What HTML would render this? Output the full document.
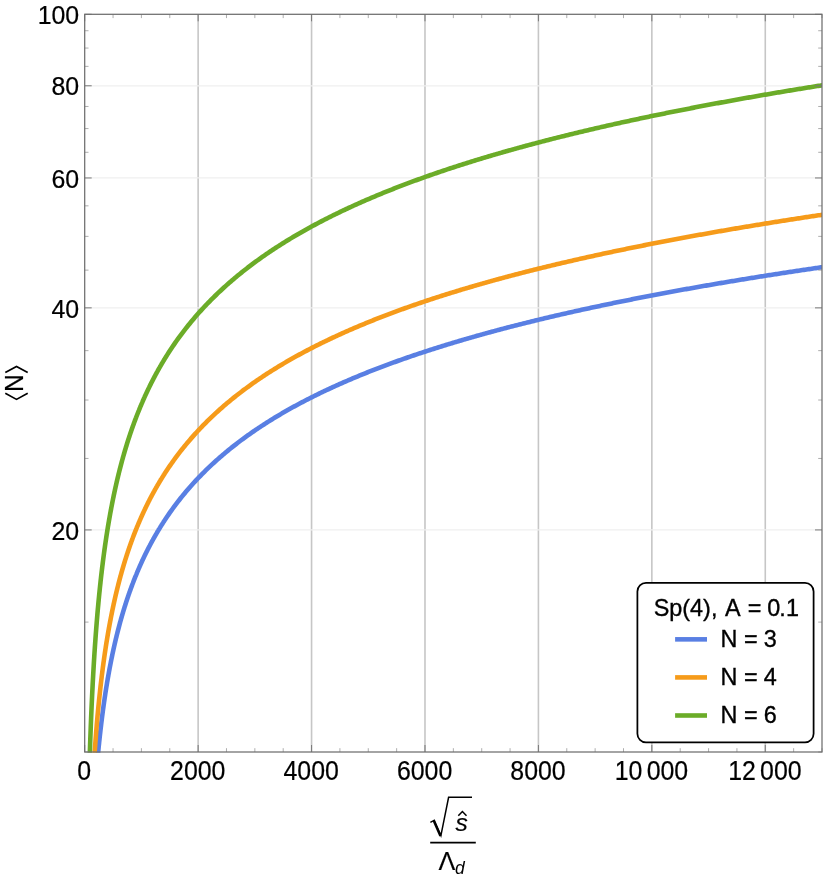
<!DOCTYPE html>
<html><head><meta charset="utf-8"><title>chart</title>
<style>html,body{margin:0;padding:0;background:#fff}svg{display:block}text{font-family:"Liberation Sans",sans-serif;fill:#000}</style></head><body>
<svg width="830" height="879" viewBox="0 0 830 879">
<filter id="bl" x="0" y="0" width="830" height="879" filterUnits="userSpaceOnUse" color-interpolation-filters="sRGB"><feGaussianBlur stdDeviation="0.4"/></filter>
<g filter="url(#bl)">
<rect x="0" y="0" width="830" height="879" fill="#fff"/>
<defs><clipPath id="cp"><rect x="84.7" y="14.3" width="737.30" height="738.55"/></clipPath></defs>
<g stroke="#c6c6c6" stroke-width="1.6"><line x1="198.13" y1="14.3" x2="198.13" y2="752.0"/><line x1="311.56" y1="14.3" x2="311.56" y2="752.0"/><line x1="424.99" y1="14.3" x2="424.99" y2="752.0"/><line x1="538.42" y1="14.3" x2="538.42" y2="752.0"/><line x1="651.85" y1="14.3" x2="651.85" y2="752.0"/><line x1="765.28" y1="14.3" x2="765.28" y2="752.0"/></g>
<g stroke="#efefef" stroke-width="1.25"><line x1="84.7" y1="529.93" x2="822.0" y2="529.93"/><line x1="84.7" y1="307.86" x2="822.0" y2="307.86"/><line x1="84.7" y1="177.96" x2="822.0" y2="177.96"/><line x1="84.7" y1="85.79" x2="822.0" y2="85.79"/></g>
<g clip-path="url(#cp)" fill="none" stroke-width="4.6" stroke-linejoin="round">
<path d="M97.61,758.11 L97.81,755.99 L98.00,753.90 L98.20,751.85 L98.40,749.83 L98.59,747.84 L98.79,745.88 L98.99,743.96 L99.18,742.05 L99.38,740.18 L99.58,738.34 L99.78,736.52 L99.97,734.72 L100.17,732.96 L100.37,731.21 L100.56,729.49 L100.76,727.79 L100.96,726.12 L101.15,724.47 L101.35,722.83 L101.55,721.22 L101.74,719.63 L101.94,718.06 L102.14,716.51 L102.33,714.98 L102.53,713.46 L102.73,711.97 L102.92,710.49 L103.12,709.03 L103.32,707.58 L103.51,706.15 L103.71,704.74 L103.91,703.34 L104.10,701.96 L104.30,700.60 L104.50,699.25 L104.69,697.91 L104.89,696.59 L105.09,695.28 L105.28,693.98 L105.48,692.70 L105.68,691.43 L105.87,690.18 L106.07,688.93 L106.27,687.70 L106.46,686.48 L106.66,685.28 L106.86,684.08 L107.05,682.90 L107.25,681.72 L107.45,680.56 L107.64,679.41 L107.84,678.27 L108.04,677.14 L108.24,676.02 L108.43,674.91 L108.63,673.81 L108.83,672.72 L109.02,671.64 L109.22,670.57 L109.42,669.51 L109.61,668.46 L109.81,667.41 L110.01,666.38 L110.20,665.35 L110.40,664.33 L110.60,663.33 L110.79,662.32 L110.99,661.33 L111.19,660.35 L111.38,659.37 L111.58,658.40 L111.78,657.44 L111.97,656.48 L112.17,655.54 L112.37,654.60 L112.56,653.66 L112.76,652.74 L112.96,651.82 L113.15,650.91 L113.35,650.00 L113.55,649.11 L113.74,648.22 L113.94,647.33 L114.14,646.45 L114.33,645.58 L114.53,644.71 L114.73,643.85 L114.92,643.00 L115.12,642.15 L115.32,641.31 L115.51,640.47 L115.71,639.64 L115.91,638.82 L116.10,638.00 L116.30,637.18 L116.50,636.38 L116.69,635.57 L116.89,634.78 L117.09,633.98 L117.29,633.20 L117.48,632.41 L117.68,631.64 L117.88,630.87 L118.07,630.10 L118.27,629.34 L118.47,628.58 L118.66,627.83 L118.86,627.08 L119.06,626.33 L119.25,625.59 L119.45,624.86 L119.65,624.13 L119.84,623.40 L120.04,622.68 L120.24,621.97 L120.43,621.25 L120.63,620.55 L120.83,619.84 L121.02,619.14 L121.22,618.44 L121.42,617.75 L121.61,617.06 L121.81,616.38 L122.01,615.70 L122.20,615.02 L122.40,614.35 L122.60,613.68 L122.79,613.02 L122.99,612.36 L123.19,611.70 L123.38,611.04 L123.58,610.39 L123.78,609.75 L123.97,609.10 L124.17,608.46 L124.37,607.82 L124.56,607.19 L124.76,606.56 L124.96,605.93 L125.15,605.31 L125.35,604.69 L125.55,604.07 L125.75,603.46 L125.94,602.85 L126.14,602.24 L126.34,601.64 L126.53,601.04 L126.73,600.44 L126.93,599.84 L127.12,599.25 L127.32,598.66 L127.52,598.07 L127.71,597.49 L127.91,596.91 L128.11,596.33 L128.30,595.76 L128.50,595.18 L128.70,594.61 L128.89,594.05 L129.09,593.48 L129.29,592.92 L129.48,592.36 L129.68,591.81 L129.88,591.25 L130.07,590.70 L130.27,590.15 L130.47,589.61 L130.66,589.06 L130.86,588.52 L131.06,587.98 L131.25,587.45 L131.45,586.91 L131.65,586.38 L131.84,585.85 L132.04,585.33 L132.24,584.80 L132.43,584.28 L132.63,583.76 L132.83,583.25 L133.02,582.73 L133.22,582.22 L133.42,581.71 L133.61,581.20 L133.81,580.69 L134.01,580.19 L134.21,579.69 L134.40,579.19 L134.60,578.69 L134.80,578.19 L134.99,577.70 L135.19,577.21 L135.39,576.72 L135.58,576.23 L135.78,575.75 L135.98,575.27 L136.17,574.78 L136.37,574.30 L136.57,573.83 L136.76,573.35 L136.96,572.88 L137.16,572.41 L137.35,571.94 L137.55,571.47 L137.75,571.00 L137.94,570.54 L138.14,570.08 L138.34,569.62 L138.53,569.16 L138.73,568.70 L138.93,568.25 L139.12,567.79 L139.32,567.34 L139.52,566.89 L139.71,566.44 L139.91,566.00 L140.11,565.55 L140.30,565.11 L140.50,564.67 L140.70,564.23 L140.89,563.79 L141.09,563.35 L141.29,562.92 L141.48,562.49 L141.68,562.06 L141.88,561.63 L142.07,561.20 L142.27,560.77 L142.47,560.35 L142.66,559.92 L142.86,559.50 L143.06,559.08 L143.26,558.66 L143.45,558.24 L143.65,557.83 L143.85,557.41 L144.04,557.00 L144.24,556.59 L144.44,556.18 L144.63,555.77 L144.83,555.36 L145.03,554.95 L145.22,554.55 L145.42,554.15 L145.62,553.75 L145.81,553.35 L146.01,552.95 L146.21,552.55 L146.40,552.15 L146.60,551.76 L146.80,551.36 L146.99,550.97 L147.19,550.58 L147.39,550.19 L147.58,549.80 L147.78,549.42 L147.98,549.03 L148.17,548.65 L148.37,548.26 L148.57,547.88 L148.76,547.50 L148.96,547.12 L149.16,546.74 L149.35,546.37 L149.55,545.99 L149.75,545.62 L149.94,545.24 L150.14,544.87 L150.34,544.50 L150.53,544.13 L150.73,543.76 L150.93,543.40 L151.12,543.03 L151.32,542.66 L151.52,542.30 L151.72,541.94 L151.91,541.58 L152.11,541.22 L152.31,540.86 L152.50,540.50 L152.70,540.14 L152.90,539.79 L153.09,539.43 L153.29,539.08 L153.49,538.72 L153.68,538.37 L153.88,538.02 L154.08,537.67 L154.27,537.32 L154.47,536.98 L154.67,536.63 L154.86,536.29 L155.06,535.94 L155.26,535.60 L155.45,535.26 L155.65,534.91 L155.85,534.57 L156.04,534.24 L156.24,533.90 L156.44,533.56 L156.63,533.22 L156.83,532.89 L157.03,532.55 L157.22,532.22 L157.42,531.89 L157.62,531.56 L157.81,531.23 L158.01,530.90 L158.21,530.57 L158.40,530.24 L158.60,529.91 L158.80,529.59 L158.99,529.26 L159.19,528.94 L159.39,528.62 L159.58,528.30 L159.78,527.97 L159.98,527.65 L160.17,527.33 L160.37,527.02 L160.57,526.70 L160.77,526.38 L160.96,526.07 L161.16,525.75 L161.36,525.44 L161.55,525.12 L161.75,524.81 L161.95,524.50 L162.14,524.19 L162.34,523.88 L162.54,523.57 L162.73,523.26 L162.93,522.96 L163.13,522.65 L163.32,522.34 L163.52,522.04 L163.72,521.73 L163.91,521.43 L164.11,521.13 L164.31,520.83 L164.50,520.53 L164.70,520.23 L166.02,518.23 L167.35,516.26 L168.67,514.33 L169.99,512.44 L171.32,510.57 L172.64,508.73 L173.96,506.92 L175.29,505.14 L176.61,503.39 L177.93,501.67 L179.26,499.97 L180.58,498.29 L181.90,496.64 L183.23,495.02 L184.55,493.42 L185.87,491.84 L187.20,490.28 L188.52,488.74 L189.84,487.22 L191.16,485.73 L192.49,484.25 L193.81,482.79 L195.13,481.35 L196.46,479.93 L197.78,478.53 L199.10,477.15 L200.43,475.78 L201.75,474.43 L203.07,473.09 L204.40,471.77 L205.72,470.47 L207.04,469.18 L208.37,467.90 L209.69,466.64 L211.01,465.40 L212.34,464.16 L213.66,462.94 L214.98,461.74 L216.31,460.55 L217.63,459.37 L218.95,458.20 L220.28,457.04 L221.60,455.90 L222.92,454.77 L224.25,453.65 L225.57,452.54 L226.89,451.44 L228.22,450.35 L229.54,449.28 L230.86,448.21 L232.19,447.16 L233.51,446.11 L234.83,445.07 L236.16,444.05 L237.48,443.03 L238.80,442.02 L240.13,441.02 L241.45,440.03 L242.77,439.05 L244.09,438.08 L245.42,437.12 L246.74,436.16 L248.06,435.21 L249.39,434.28 L250.71,433.34 L252.03,432.42 L253.36,431.51 L254.68,430.60 L256.00,429.70 L257.33,428.81 L258.65,427.92 L259.97,427.04 L261.30,426.17 L262.62,425.31 L263.94,424.45 L265.27,423.60 L266.59,422.75 L267.91,421.91 L269.24,421.08 L270.56,420.26 L271.88,419.44 L273.21,418.62 L274.53,417.82 L275.85,417.02 L277.18,416.22 L278.50,415.43 L279.82,414.65 L281.15,413.87 L282.47,413.10 L283.79,412.33 L285.12,411.57 L286.44,410.81 L287.76,410.06 L289.09,409.31 L290.41,408.57 L291.73,407.84 L293.05,407.11 L294.38,406.38 L295.70,405.66 L297.02,404.94 L298.35,404.23 L299.67,403.52 L300.99,402.82 L302.32,402.12 L303.64,401.43 L304.96,400.74 L306.29,400.06 L307.61,399.37 L308.93,398.70 L310.26,398.03 L311.58,397.36 L312.90,396.70 L314.23,396.04 L315.55,395.38 L316.87,394.73 L318.20,394.08 L319.52,393.44 L320.84,392.80 L322.17,392.16 L323.49,391.53 L324.81,390.90 L326.14,390.28 L327.46,389.65 L328.78,389.04 L330.11,388.42 L331.43,387.81 L332.75,387.20 L334.08,386.60 L335.40,386.00 L336.72,385.40 L338.05,384.81 L339.37,384.22 L340.69,383.63 L342.02,383.05 L343.34,382.46 L344.66,381.89 L345.98,381.31 L347.31,380.74 L348.63,380.17 L349.95,379.61 L351.28,379.04 L352.60,378.48 L353.92,377.93 L355.25,377.37 L356.57,376.82 L357.89,376.27 L359.22,375.73 L360.54,375.18 L361.86,374.64 L363.19,374.11 L364.51,373.57 L365.83,373.04 L367.16,372.51 L368.48,371.98 L369.80,371.46 L371.13,370.94 L372.45,370.42 L373.77,369.90 L375.10,369.39 L376.42,368.88 L377.74,368.37 L379.07,367.86 L380.39,367.36 L381.71,366.86 L383.04,366.36 L384.36,365.86 L385.68,365.37 L387.01,364.87 L388.33,364.38 L389.65,363.90 L390.98,363.41 L392.30,362.93 L393.62,362.44 L394.94,361.97 L396.27,361.49 L397.59,361.01 L398.91,360.54 L400.24,360.07 L401.56,359.60 L402.88,359.14 L404.21,358.67 L405.53,358.21 L406.85,357.75 L408.18,357.29 L409.50,356.83 L410.82,356.38 L412.15,355.93 L413.47,355.48 L414.79,355.03 L416.12,354.58 L417.44,354.13 L418.76,353.69 L420.09,353.25 L421.41,352.81 L422.73,352.37 L424.06,351.94 L425.38,351.50 L426.70,351.07 L428.03,350.64 L429.35,350.21 L430.67,349.79 L432.00,349.36 L433.32,348.94 L434.64,348.52 L435.97,348.09 L437.29,347.68 L438.61,347.26 L439.94,346.84 L441.26,346.43 L442.58,346.02 L443.91,345.61 L445.23,345.20 L446.55,344.79 L447.87,344.39 L449.20,343.98 L450.52,343.58 L451.84,343.18 L453.17,342.78 L454.49,342.38 L455.81,341.99 L457.14,341.59 L458.46,341.20 L459.78,340.81 L461.11,340.42 L462.43,340.03 L463.75,339.64 L465.08,339.25 L466.40,338.87 L467.72,338.48 L469.05,338.10 L470.37,337.72 L471.69,337.34 L473.02,336.96 L474.34,336.59 L475.66,336.21 L476.99,335.84 L478.31,335.47 L479.63,335.10 L480.96,334.73 L482.28,334.36 L483.60,333.99 L484.93,333.62 L486.25,333.26 L487.57,332.90 L488.90,332.53 L490.22,332.17 L491.54,331.81 L492.87,331.45 L494.19,331.10 L495.51,330.74 L496.83,330.39 L498.16,330.03 L499.48,329.68 L500.80,329.33 L502.13,328.98 L503.45,328.63 L504.77,328.28 L506.10,327.94 L507.42,327.59 L508.74,327.25 L510.07,326.90 L511.39,326.56 L512.71,326.22 L514.04,325.88 L515.36,325.54 L516.68,325.20 L518.01,324.87 L519.33,324.53 L520.65,324.20 L521.98,323.86 L523.30,323.53 L524.62,323.20 L525.95,322.87 L527.27,322.54 L528.59,322.21 L529.92,321.89 L531.24,321.56 L532.56,321.23 L533.89,320.91 L535.21,320.59 L536.53,320.27 L537.86,319.94 L539.18,319.62 L540.50,319.31 L541.83,318.99 L543.15,318.67 L544.47,318.35 L545.79,318.04 L547.12,317.73 L548.44,317.41 L549.76,317.10 L551.09,316.79 L552.41,316.48 L553.73,316.17 L555.06,315.86 L556.38,315.55 L557.70,315.25 L559.03,314.94 L560.35,314.63 L561.67,314.33 L563.00,314.03 L564.32,313.72 L565.64,313.42 L566.97,313.12 L568.29,312.82 L569.61,312.52 L570.94,312.23 L572.26,311.93 L573.58,311.63 L574.91,311.34 L576.23,311.04 L577.55,310.75 L578.88,310.46 L580.20,310.16 L581.52,309.87 L582.85,309.58 L584.17,309.29 L585.49,309.00 L586.82,308.72 L588.14,308.43 L589.46,308.14 L590.79,307.86 L592.11,307.57 L593.43,307.29 L594.76,307.00 L596.08,306.72 L597.40,306.44 L598.72,306.16 L600.05,305.88 L601.37,305.60 L602.69,305.32 L604.02,305.04 L605.34,304.77 L606.66,304.49 L607.99,304.21 L609.31,303.94 L610.63,303.66 L611.96,303.39 L613.28,303.12 L614.60,302.85 L615.93,302.57 L617.25,302.30 L618.57,302.03 L619.90,301.76 L621.22,301.50 L622.54,301.23 L623.87,300.96 L625.19,300.69 L626.51,300.43 L627.84,300.16 L629.16,299.90 L630.48,299.63 L631.81,299.37 L633.13,299.11 L634.45,298.85 L635.78,298.59 L637.10,298.33 L638.42,298.07 L639.75,297.81 L641.07,297.55 L642.39,297.29 L643.72,297.03 L645.04,296.78 L646.36,296.52 L647.68,296.27 L649.01,296.01 L650.33,295.76 L651.65,295.50 L652.98,295.25 L654.30,295.00 L655.62,294.75 L656.95,294.50 L658.27,294.25 L659.59,294.00 L660.92,293.75 L662.24,293.50 L663.56,293.25 L664.89,293.00 L666.21,292.76 L667.53,292.51 L668.86,292.26 L670.18,292.02 L671.50,291.78 L672.83,291.53 L674.15,291.29 L675.47,291.05 L676.80,290.80 L678.12,290.56 L679.44,290.32 L680.77,290.08 L682.09,289.84 L683.41,289.60 L684.74,289.36 L686.06,289.12 L687.38,288.89 L688.71,288.65 L690.03,288.41 L691.35,288.18 L692.68,287.94 L694.00,287.71 L695.32,287.47 L696.65,287.24 L697.97,287.01 L699.29,286.77 L700.61,286.54 L701.94,286.31 L703.26,286.08 L704.58,285.85 L705.91,285.62 L707.23,285.39 L708.55,285.16 L709.88,284.93 L711.20,284.70 L712.52,284.47 L713.85,284.25 L715.17,284.02 L716.49,283.79 L717.82,283.57 L719.14,283.34 L720.46,283.12 L721.79,282.89 L723.11,282.67 L724.43,282.45 L725.76,282.23 L727.08,282.00 L728.40,281.78 L729.73,281.56 L731.05,281.34 L732.37,281.12 L733.70,280.90 L735.02,280.68 L736.34,280.46 L737.67,280.24 L738.99,280.03 L740.31,279.81 L741.64,279.59 L742.96,279.37 L744.28,279.16 L745.61,278.94 L746.93,278.73 L748.25,278.51 L749.57,278.30 L750.90,278.08 L752.22,277.87 L753.54,277.66 L754.87,277.45 L756.19,277.23 L757.51,277.02 L758.84,276.81 L760.16,276.60 L761.48,276.39 L762.81,276.18 L764.13,275.97 L765.45,275.76 L766.78,275.55 L768.10,275.35 L769.42,275.14 L770.75,274.93 L772.07,274.72 L773.39,274.52 L774.72,274.31 L776.04,274.11 L777.36,273.90 L778.69,273.70 L780.01,273.49 L781.33,273.29 L782.66,273.08 L783.98,272.88 L785.30,272.68 L786.63,272.48 L787.95,272.27 L789.27,272.07 L790.60,271.87 L791.92,271.67 L793.24,271.47 L794.57,271.27 L795.89,271.07 L797.21,270.87 L798.54,270.67 L799.86,270.47 L801.18,270.28 L802.50,270.08 L803.83,269.88 L805.15,269.68 L806.47,269.49 L807.80,269.29 L809.12,269.10 L810.44,268.90 L811.77,268.71 L813.09,268.51 L814.41,268.32 L815.74,268.12 L817.06,267.93 L818.38,267.74 L819.71,267.54 L821.03,267.35 L822.35,267.16 L823.68,266.97 L825.00,266.78" stroke="#597fe3"/>
<path d="M94.27,758.46 L94.46,755.50 L94.66,752.60 L94.86,749.76 L95.05,746.98 L95.25,744.25 L95.45,741.59 L95.64,738.97 L95.84,736.40 L96.04,733.89 L96.23,731.42 L96.43,728.99 L96.63,726.61 L96.82,724.28 L97.02,721.98 L97.22,719.72 L97.41,717.50 L97.61,715.32 L97.81,713.17 L98.00,711.06 L98.20,708.98 L98.40,706.93 L98.59,704.92 L98.79,702.94 L98.99,700.98 L99.18,699.06 L99.38,697.16 L99.58,695.29 L99.78,693.45 L99.97,691.63 L100.17,689.84 L100.37,688.07 L100.56,686.33 L100.76,684.61 L100.96,682.91 L101.15,681.23 L101.35,679.58 L101.55,677.94 L101.74,676.33 L101.94,674.74 L102.14,673.17 L102.33,671.61 L102.53,670.08 L102.73,668.56 L102.92,667.06 L103.12,665.58 L103.32,664.11 L103.51,662.66 L103.71,661.23 L103.91,659.81 L104.10,658.41 L104.30,657.03 L104.50,655.66 L104.69,654.30 L104.89,652.96 L105.09,651.63 L105.28,650.32 L105.48,649.02 L105.68,647.73 L105.87,646.45 L106.07,645.19 L106.27,643.94 L106.46,642.71 L106.66,641.48 L106.86,640.27 L107.05,639.07 L107.25,637.88 L107.45,636.70 L107.64,635.53 L107.84,634.37 L108.04,633.22 L108.24,632.09 L108.43,630.96 L108.63,629.84 L108.83,628.74 L109.02,627.64 L109.22,626.55 L109.42,625.48 L109.61,624.41 L109.81,623.35 L110.01,622.30 L110.20,621.25 L110.40,620.22 L110.60,619.19 L110.79,618.18 L110.99,617.17 L111.19,616.17 L111.38,615.18 L111.58,614.19 L111.78,613.21 L111.97,612.24 L112.17,611.28 L112.37,610.33 L112.56,609.38 L112.76,608.44 L112.96,607.51 L113.15,606.58 L113.35,605.66 L113.55,604.75 L113.74,603.84 L113.94,602.95 L114.14,602.05 L114.33,601.17 L114.53,600.29 L114.73,599.41 L114.92,598.54 L115.12,597.68 L115.32,596.83 L115.51,595.98 L115.71,595.13 L115.91,594.29 L116.10,593.46 L116.30,592.63 L116.50,591.81 L116.69,591.00 L116.89,590.19 L117.09,589.38 L117.29,588.58 L117.48,587.79 L117.68,587.00 L117.88,586.21 L118.07,585.43 L118.27,584.66 L118.47,583.89 L118.66,583.12 L118.86,582.36 L119.06,581.60 L119.25,580.85 L119.45,580.10 L119.65,579.36 L119.84,578.62 L120.04,577.89 L120.24,577.16 L120.43,576.44 L120.63,575.72 L120.83,575.00 L121.02,574.29 L121.22,573.58 L121.42,572.88 L121.61,572.18 L121.81,571.48 L122.01,570.79 L122.20,570.10 L122.40,569.42 L122.60,568.74 L122.79,568.06 L122.99,567.39 L123.19,566.72 L123.38,566.05 L123.58,565.39 L123.78,564.73 L123.97,564.08 L124.17,563.43 L124.37,562.78 L124.56,562.13 L124.76,561.49 L124.96,560.86 L125.15,560.22 L125.35,559.59 L125.55,558.96 L125.75,558.34 L125.94,557.72 L126.14,557.10 L126.34,556.48 L126.53,555.87 L126.73,555.26 L126.93,554.66 L127.12,554.05 L127.32,553.46 L127.52,552.86 L127.71,552.26 L127.91,551.67 L128.11,551.09 L128.30,550.50 L128.50,549.92 L128.70,549.34 L128.89,548.76 L129.09,548.19 L129.29,547.62 L129.48,547.05 L129.68,546.48 L129.88,545.92 L130.07,545.36 L130.27,544.80 L130.47,544.24 L130.66,543.69 L130.86,543.14 L131.06,542.59 L131.25,542.04 L131.45,541.50 L131.65,540.96 L131.84,540.42 L132.04,539.89 L132.24,539.35 L132.43,538.82 L132.63,538.29 L132.83,537.77 L133.02,537.24 L133.22,536.72 L133.42,536.20 L133.61,535.68 L133.81,535.17 L134.01,534.65 L134.21,534.14 L134.40,533.64 L134.60,533.13 L134.80,532.62 L134.99,532.12 L135.19,531.62 L135.39,531.12 L135.58,530.63 L135.78,530.13 L135.98,529.64 L136.17,529.15 L136.37,528.66 L136.57,528.18 L136.76,527.69 L136.96,527.21 L137.16,526.73 L137.35,526.25 L137.55,525.78 L137.75,525.30 L137.94,524.83 L138.14,524.36 L138.34,523.89 L138.53,523.42 L138.73,522.96 L138.93,522.49 L139.12,522.03 L139.32,521.57 L139.52,521.11 L139.71,520.66 L139.91,520.20 L140.11,519.75 L140.30,519.30 L140.50,518.85 L140.70,518.40 L140.89,517.96 L141.09,517.51 L141.29,517.07 L141.48,516.63 L141.68,516.19 L141.88,515.75 L142.07,515.31 L142.27,514.88 L142.47,514.45 L142.66,514.02 L142.86,513.59 L143.06,513.16 L143.26,512.73 L143.45,512.30 L143.65,511.88 L143.85,511.46 L144.04,511.04 L144.24,510.62 L144.44,510.20 L144.63,509.78 L144.83,509.37 L145.03,508.96 L145.22,508.54 L145.42,508.13 L145.62,507.72 L145.81,507.32 L146.01,506.91 L146.21,506.50 L146.40,506.10 L146.60,505.70 L146.80,505.30 L146.99,504.90 L147.19,504.50 L147.39,504.10 L147.58,503.71 L147.78,503.31 L147.98,502.92 L148.17,502.53 L148.37,502.14 L148.57,501.75 L148.76,501.36 L148.96,500.97 L149.16,500.59 L149.35,500.21 L149.55,499.82 L149.75,499.44 L149.94,499.06 L150.14,498.68 L150.34,498.30 L150.53,497.93 L150.73,497.55 L150.93,497.18 L151.12,496.80 L151.32,496.43 L151.52,496.06 L151.72,495.69 L151.91,495.32 L152.11,494.96 L152.31,494.59 L152.50,494.23 L152.70,493.86 L152.90,493.50 L153.09,493.14 L153.29,492.78 L153.49,492.42 L153.68,492.06 L153.88,491.70 L154.08,491.35 L154.27,490.99 L154.47,490.64 L154.67,490.28 L154.86,489.93 L155.06,489.58 L155.26,489.23 L155.45,488.88 L155.65,488.53 L155.85,488.19 L156.04,487.84 L156.24,487.50 L156.44,487.15 L156.63,486.81 L156.83,486.47 L157.03,486.13 L157.22,485.79 L157.42,485.45 L157.62,485.11 L157.81,484.77 L158.01,484.44 L158.21,484.10 L158.40,483.77 L158.60,483.44 L158.80,483.11 L158.99,482.77 L159.19,482.44 L159.39,482.11 L159.58,481.79 L159.78,481.46 L159.98,481.13 L160.17,480.81 L160.37,480.48 L160.57,480.16 L160.77,479.84 L160.96,479.51 L161.16,479.19 L161.36,478.87 L161.55,478.55 L161.75,478.23 L161.95,477.92 L162.14,477.60 L162.34,477.28 L162.54,476.97 L162.73,476.65 L162.93,476.34 L163.13,476.03 L163.32,475.72 L163.52,475.41 L163.72,475.10 L163.91,474.79 L164.11,474.48 L164.31,474.17 L164.50,473.86 L164.70,473.56 L166.02,471.52 L167.35,469.52 L168.67,467.55 L169.99,465.61 L171.32,463.71 L172.64,461.84 L173.96,459.99 L175.29,458.18 L176.61,456.39 L177.93,454.63 L179.26,452.90 L180.58,451.19 L181.90,449.51 L183.23,447.85 L184.55,446.21 L185.87,444.60 L187.20,443.01 L188.52,441.44 L189.84,439.89 L191.16,438.37 L192.49,436.86 L193.81,435.37 L195.13,433.90 L196.46,432.45 L197.78,431.02 L199.10,429.61 L200.43,428.21 L201.75,426.83 L203.07,425.47 L204.40,424.12 L205.72,422.79 L207.04,421.47 L208.37,420.17 L209.69,418.88 L211.01,417.61 L212.34,416.35 L213.66,415.11 L214.98,413.88 L216.31,412.66 L217.63,411.45 L218.95,410.26 L220.28,409.08 L221.60,407.91 L222.92,406.76 L224.25,405.61 L225.57,404.48 L226.89,403.36 L228.22,402.25 L229.54,401.15 L230.86,400.06 L232.19,398.98 L233.51,397.91 L234.83,396.86 L236.16,395.81 L237.48,394.77 L238.80,393.74 L240.13,392.72 L241.45,391.71 L242.77,390.70 L244.09,389.71 L245.42,388.73 L246.74,387.75 L248.06,386.78 L249.39,385.82 L250.71,384.87 L252.03,383.93 L253.36,382.99 L254.68,382.07 L256.00,381.15 L257.33,380.23 L258.65,379.33 L259.97,378.43 L261.30,377.54 L262.62,376.66 L263.94,375.78 L265.27,374.91 L266.59,374.05 L267.91,373.19 L269.24,372.34 L270.56,371.50 L271.88,370.66 L273.21,369.83 L274.53,369.00 L275.85,368.18 L277.18,367.37 L278.50,366.56 L279.82,365.76 L281.15,364.97 L282.47,364.18 L283.79,363.39 L285.12,362.61 L286.44,361.84 L287.76,361.07 L289.09,360.31 L290.41,359.55 L291.73,358.80 L293.05,358.05 L294.38,357.31 L295.70,356.57 L297.02,355.84 L298.35,355.11 L299.67,354.39 L300.99,353.67 L302.32,352.96 L303.64,352.25 L304.96,351.54 L306.29,350.84 L307.61,350.15 L308.93,349.46 L310.26,348.77 L311.58,348.09 L312.90,347.41 L314.23,346.73 L315.55,346.06 L316.87,345.40 L318.20,344.73 L319.52,344.08 L320.84,343.42 L322.17,342.77 L323.49,342.12 L324.81,341.48 L326.14,340.84 L327.46,340.21 L328.78,339.57 L330.11,338.95 L331.43,338.32 L332.75,337.70 L334.08,337.08 L335.40,336.47 L336.72,335.86 L338.05,335.25 L339.37,334.65 L340.69,334.04 L342.02,333.45 L343.34,332.85 L344.66,332.26 L345.98,331.67 L347.31,331.09 L348.63,330.51 L349.95,329.93 L351.28,329.35 L352.60,328.78 L353.92,328.21 L355.25,327.64 L356.57,327.08 L357.89,326.52 L359.22,325.96 L360.54,325.40 L361.86,324.85 L363.19,324.30 L364.51,323.76 L365.83,323.21 L367.16,322.67 L368.48,322.13 L369.80,321.59 L371.13,321.06 L372.45,320.53 L373.77,320.00 L375.10,319.48 L376.42,318.95 L377.74,318.43 L379.07,317.91 L380.39,317.40 L381.71,316.88 L383.04,316.37 L384.36,315.86 L385.68,315.36 L387.01,314.85 L388.33,314.35 L389.65,313.85 L390.98,313.36 L392.30,312.86 L393.62,312.37 L394.94,311.88 L396.27,311.39 L397.59,310.90 L398.91,310.42 L400.24,309.94 L401.56,309.46 L402.88,308.98 L404.21,308.51 L405.53,308.03 L406.85,307.56 L408.18,307.09 L409.50,306.62 L410.82,306.16 L412.15,305.70 L413.47,305.24 L414.79,304.78 L416.12,304.32 L417.44,303.86 L418.76,303.41 L420.09,302.96 L421.41,302.51 L422.73,302.06 L424.06,301.61 L425.38,301.17 L426.70,300.73 L428.03,300.29 L429.35,299.85 L430.67,299.41 L432.00,298.98 L433.32,298.54 L434.64,298.11 L435.97,297.68 L437.29,297.25 L438.61,296.83 L439.94,296.40 L441.26,295.98 L442.58,295.56 L443.91,295.14 L445.23,294.72 L446.55,294.30 L447.87,293.88 L449.20,293.47 L450.52,293.06 L451.84,292.65 L453.17,292.24 L454.49,291.83 L455.81,291.43 L457.14,291.02 L458.46,290.62 L459.78,290.22 L461.11,289.82 L462.43,289.42 L463.75,289.02 L465.08,288.63 L466.40,288.23 L467.72,287.84 L469.05,287.45 L470.37,287.06 L471.69,286.67 L473.02,286.28 L474.34,285.90 L475.66,285.51 L476.99,285.13 L478.31,284.75 L479.63,284.37 L480.96,283.99 L482.28,283.61 L483.60,283.24 L484.93,282.86 L486.25,282.49 L487.57,282.12 L488.90,281.75 L490.22,281.38 L491.54,281.01 L492.87,280.64 L494.19,280.28 L495.51,279.91 L496.83,279.55 L498.16,279.19 L499.48,278.82 L500.80,278.47 L502.13,278.11 L503.45,277.75 L504.77,277.39 L506.10,277.04 L507.42,276.68 L508.74,276.33 L510.07,275.98 L511.39,275.63 L512.71,275.28 L514.04,274.93 L515.36,274.59 L516.68,274.24 L518.01,273.90 L519.33,273.55 L520.65,273.21 L521.98,272.87 L523.30,272.53 L524.62,272.19 L525.95,271.85 L527.27,271.51 L528.59,271.18 L529.92,270.84 L531.24,270.51 L532.56,270.18 L533.89,269.84 L535.21,269.51 L536.53,269.18 L537.86,268.85 L539.18,268.53 L540.50,268.20 L541.83,267.87 L543.15,267.55 L544.47,267.23 L545.79,266.90 L547.12,266.58 L548.44,266.26 L549.76,265.94 L551.09,265.62 L552.41,265.30 L553.73,264.99 L555.06,264.67 L556.38,264.35 L557.70,264.04 L559.03,263.73 L560.35,263.41 L561.67,263.10 L563.00,262.79 L564.32,262.48 L565.64,262.17 L566.97,261.87 L568.29,261.56 L569.61,261.25 L570.94,260.95 L572.26,260.64 L573.58,260.34 L574.91,260.04 L576.23,259.73 L577.55,259.43 L578.88,259.13 L580.20,258.83 L581.52,258.54 L582.85,258.24 L584.17,257.94 L585.49,257.65 L586.82,257.35 L588.14,257.06 L589.46,256.76 L590.79,256.47 L592.11,256.18 L593.43,255.89 L594.76,255.60 L596.08,255.31 L597.40,255.02 L598.72,254.73 L600.05,254.44 L601.37,254.16 L602.69,253.87 L604.02,253.59 L605.34,253.30 L606.66,253.02 L607.99,252.74 L609.31,252.46 L610.63,252.17 L611.96,251.89 L613.28,251.61 L614.60,251.34 L615.93,251.06 L617.25,250.78 L618.57,250.50 L619.90,250.23 L621.22,249.95 L622.54,249.68 L623.87,249.40 L625.19,249.13 L626.51,248.86 L627.84,248.59 L629.16,248.32 L630.48,248.05 L631.81,247.78 L633.13,247.51 L634.45,247.24 L635.78,246.97 L637.10,246.70 L638.42,246.44 L639.75,246.17 L641.07,245.91 L642.39,245.64 L643.72,245.38 L645.04,245.12 L646.36,244.85 L647.68,244.59 L649.01,244.33 L650.33,244.07 L651.65,243.81 L652.98,243.55 L654.30,243.29 L655.62,243.04 L656.95,242.78 L658.27,242.52 L659.59,242.27 L660.92,242.01 L662.24,241.76 L663.56,241.50 L664.89,241.25 L666.21,241.00 L667.53,240.74 L668.86,240.49 L670.18,240.24 L671.50,239.99 L672.83,239.74 L674.15,239.49 L675.47,239.24 L676.80,239.00 L678.12,238.75 L679.44,238.50 L680.77,238.25 L682.09,238.01 L683.41,237.76 L684.74,237.52 L686.06,237.27 L687.38,237.03 L688.71,236.79 L690.03,236.55 L691.35,236.30 L692.68,236.06 L694.00,235.82 L695.32,235.58 L696.65,235.34 L697.97,235.10 L699.29,234.86 L700.61,234.63 L701.94,234.39 L703.26,234.15 L704.58,233.92 L705.91,233.68 L707.23,233.44 L708.55,233.21 L709.88,232.97 L711.20,232.74 L712.52,232.51 L713.85,232.27 L715.17,232.04 L716.49,231.81 L717.82,231.58 L719.14,231.35 L720.46,231.12 L721.79,230.89 L723.11,230.66 L724.43,230.43 L725.76,230.20 L727.08,229.98 L728.40,229.75 L729.73,229.52 L731.05,229.29 L732.37,229.07 L733.70,228.84 L735.02,228.62 L736.34,228.39 L737.67,228.17 L738.99,227.95 L740.31,227.72 L741.64,227.50 L742.96,227.28 L744.28,227.06 L745.61,226.84 L746.93,226.62 L748.25,226.40 L749.57,226.18 L750.90,225.96 L752.22,225.74 L753.54,225.52 L754.87,225.30 L756.19,225.09 L757.51,224.87 L758.84,224.65 L760.16,224.44 L761.48,224.22 L762.81,224.01 L764.13,223.79 L765.45,223.58 L766.78,223.36 L768.10,223.15 L769.42,222.94 L770.75,222.72 L772.07,222.51 L773.39,222.30 L774.72,222.09 L776.04,221.88 L777.36,221.67 L778.69,221.46 L780.01,221.25 L781.33,221.04 L782.66,220.83 L783.98,220.62 L785.30,220.41 L786.63,220.21 L787.95,220.00 L789.27,219.79 L790.60,219.59 L791.92,219.38 L793.24,219.18 L794.57,218.97 L795.89,218.77 L797.21,218.56 L798.54,218.36 L799.86,218.15 L801.18,217.95 L802.50,217.75 L803.83,217.55 L805.15,217.35 L806.47,217.14 L807.80,216.94 L809.12,216.74 L810.44,216.54 L811.77,216.34 L813.09,216.14 L814.41,215.94 L815.74,215.74 L817.06,215.55 L818.38,215.35 L819.71,215.15 L821.03,214.95 L822.35,214.76 L823.68,214.56 L825.00,214.36" stroke="#f69b1a"/>
<path d="M89.74,756.02 L89.94,749.92 L90.13,744.06 L90.33,738.43 L90.53,733.01 L90.73,727.79 L90.92,722.75 L91.12,717.88 L91.32,713.17 L91.51,708.61 L91.71,704.19 L91.91,699.90 L92.10,695.73 L92.30,691.69 L92.50,687.76 L92.69,683.93 L92.89,680.20 L93.09,676.57 L93.28,673.03 L93.48,669.58 L93.68,666.21 L93.87,662.92 L94.07,659.70 L94.27,656.56 L94.46,653.48 L94.66,650.48 L94.86,647.53 L95.05,644.65 L95.25,641.82 L95.45,639.05 L95.64,636.34 L95.84,633.67 L96.04,631.06 L96.23,628.50 L96.43,625.98 L96.63,623.51 L96.82,621.08 L97.02,618.69 L97.22,616.34 L97.41,614.04 L97.61,611.77 L97.81,609.54 L98.00,607.34 L98.20,605.18 L98.40,603.05 L98.59,600.96 L98.79,598.89 L98.99,596.86 L99.18,594.86 L99.38,592.88 L99.58,590.94 L99.78,589.02 L99.97,587.13 L100.17,585.26 L100.37,583.42 L100.56,581.61 L100.76,579.82 L100.96,578.05 L101.15,576.30 L101.35,574.58 L101.55,572.88 L101.74,571.20 L101.94,569.54 L102.14,567.90 L102.33,566.28 L102.53,564.68 L102.73,563.10 L102.92,561.54 L103.12,559.99 L103.32,558.46 L103.51,556.95 L103.71,555.46 L103.91,553.98 L104.10,552.52 L104.30,551.08 L104.50,549.65 L104.69,548.23 L104.89,546.83 L105.09,545.45 L105.28,544.08 L105.48,542.72 L105.68,541.38 L105.87,540.05 L106.07,538.73 L106.27,537.43 L106.46,536.14 L106.66,534.86 L106.86,533.59 L107.05,532.34 L107.25,531.09 L107.45,529.86 L107.64,528.64 L107.84,527.43 L108.04,526.24 L108.24,525.05 L108.43,523.87 L108.63,522.71 L108.83,521.55 L109.02,520.41 L109.22,519.27 L109.42,518.14 L109.61,517.03 L109.81,515.92 L110.01,514.82 L110.20,513.73 L110.40,512.65 L110.60,511.58 L110.79,510.52 L110.99,509.47 L111.19,508.42 L111.38,507.38 L111.58,506.35 L111.78,505.33 L111.97,504.32 L112.17,503.31 L112.37,502.32 L112.56,501.32 L112.76,500.34 L112.96,499.37 L113.15,498.40 L113.35,497.44 L113.55,496.48 L113.74,495.54 L113.94,494.60 L114.14,493.66 L114.33,492.73 L114.53,491.81 L114.73,490.90 L114.92,489.99 L115.12,489.09 L115.32,488.20 L115.51,487.31 L115.71,486.42 L115.91,485.55 L116.10,484.68 L116.30,483.81 L116.50,482.95 L116.69,482.10 L116.89,481.25 L117.09,480.40 L117.29,479.57 L117.48,478.73 L117.68,477.91 L117.88,477.09 L118.07,476.27 L118.27,475.46 L118.47,474.65 L118.66,473.85 L118.86,473.05 L119.06,472.26 L119.25,471.48 L119.45,470.69 L119.65,469.92 L119.84,469.15 L120.04,468.38 L120.24,467.61 L120.43,466.86 L120.63,466.10 L120.83,465.35 L121.02,464.60 L121.22,463.86 L121.42,463.13 L121.61,462.39 L121.81,461.66 L122.01,460.94 L122.20,460.22 L122.40,459.50 L122.60,458.79 L122.79,458.08 L122.99,457.38 L123.19,456.68 L123.38,455.98 L123.58,455.28 L123.78,454.59 L123.97,453.91 L124.17,453.23 L124.37,452.55 L124.56,451.87 L124.76,451.20 L124.96,450.53 L125.15,449.87 L125.35,449.21 L125.55,448.55 L125.75,447.89 L125.94,447.24 L126.14,446.59 L126.34,445.95 L126.53,445.31 L126.73,444.67 L126.93,444.04 L127.12,443.40 L127.32,442.78 L127.52,442.15 L127.71,441.53 L127.91,440.91 L128.11,440.29 L128.30,439.68 L128.50,439.07 L128.70,438.46 L128.89,437.85 L129.09,437.25 L129.29,436.65 L129.48,436.06 L129.68,435.46 L129.88,434.87 L130.07,434.28 L130.27,433.70 L130.47,433.11 L130.66,432.53 L130.86,431.96 L131.06,431.38 L131.25,430.81 L131.45,430.24 L131.65,429.67 L131.84,429.11 L132.04,428.55 L132.24,427.99 L132.43,427.43 L132.63,426.87 L132.83,426.32 L133.02,425.77 L133.22,425.22 L133.42,424.68 L133.61,424.14 L133.81,423.60 L134.01,423.06 L134.21,422.52 L134.40,421.99 L134.60,421.46 L134.80,420.93 L134.99,420.40 L135.19,419.88 L135.39,419.35 L135.58,418.83 L135.78,418.31 L135.98,417.80 L136.17,417.28 L136.37,416.77 L136.57,416.26 L136.76,415.75 L136.96,415.25 L137.16,414.74 L137.35,414.24 L137.55,413.74 L137.75,413.24 L137.94,412.75 L138.14,412.25 L138.34,411.76 L138.53,411.27 L138.73,410.78 L138.93,410.30 L139.12,409.81 L139.32,409.33 L139.52,408.85 L139.71,408.37 L139.91,407.89 L140.11,407.42 L140.30,406.94 L140.50,406.47 L140.70,406.00 L140.89,405.53 L141.09,405.06 L141.29,404.60 L141.48,404.14 L141.68,403.67 L141.88,403.22 L142.07,402.76 L142.27,402.30 L142.47,401.85 L142.66,401.39 L142.86,400.94 L143.06,400.49 L143.26,400.04 L143.45,399.60 L143.65,399.15 L143.85,398.71 L144.04,398.27 L144.24,397.82 L144.44,397.39 L144.63,396.95 L144.83,396.51 L145.03,396.08 L145.22,395.65 L145.42,395.21 L145.62,394.78 L145.81,394.36 L146.01,393.93 L146.21,393.50 L146.40,393.08 L146.60,392.66 L146.80,392.24 L146.99,391.82 L147.19,391.40 L147.39,390.98 L147.58,390.56 L147.78,390.15 L147.98,389.74 L148.17,389.33 L148.37,388.92 L148.57,388.51 L148.76,388.10 L148.96,387.69 L149.16,387.29 L149.35,386.88 L149.55,386.48 L149.75,386.08 L149.94,385.68 L150.14,385.28 L150.34,384.89 L150.53,384.49 L150.73,384.10 L150.93,383.70 L151.12,383.31 L151.32,382.92 L151.52,382.53 L151.72,382.14 L151.91,381.75 L152.11,381.37 L152.31,380.98 L152.50,380.60 L152.70,380.22 L152.90,379.84 L153.09,379.46 L153.29,379.08 L153.49,378.70 L153.68,378.32 L153.88,377.95 L154.08,377.57 L154.27,377.20 L154.47,376.83 L154.67,376.46 L154.86,376.09 L155.06,375.72 L155.26,375.35 L155.45,374.98 L155.65,374.62 L155.85,374.25 L156.04,373.89 L156.24,373.53 L156.44,373.16 L156.63,372.80 L156.83,372.45 L157.03,372.09 L157.22,371.73 L157.42,371.37 L157.62,371.02 L157.81,370.66 L158.01,370.31 L158.21,369.96 L158.40,369.61 L158.60,369.26 L158.80,368.91 L158.99,368.56 L159.19,368.21 L159.39,367.87 L159.58,367.52 L159.78,367.18 L159.98,366.83 L160.17,366.49 L160.37,366.15 L160.57,365.81 L160.77,365.47 L160.96,365.13 L161.16,364.79 L161.36,364.46 L161.55,364.12 L161.75,363.79 L161.95,363.45 L162.14,363.12 L162.34,362.79 L162.54,362.46 L162.73,362.12 L162.93,361.79 L163.13,361.47 L163.32,361.14 L163.52,360.81 L163.72,360.49 L163.91,360.16 L164.11,359.84 L164.31,359.51 L164.50,359.19 L164.70,358.87 L166.02,356.72 L167.35,354.62 L168.67,352.55 L169.99,350.51 L171.32,348.50 L172.64,346.53 L173.96,344.59 L175.29,342.68 L176.61,340.80 L177.93,338.95 L179.26,337.12 L180.58,335.32 L181.90,333.55 L183.23,331.80 L184.55,330.08 L185.87,328.38 L187.20,326.71 L188.52,325.06 L189.84,323.43 L191.16,321.82 L192.49,320.23 L193.81,318.66 L195.13,317.11 L196.46,315.59 L197.78,314.08 L199.10,312.59 L200.43,311.12 L201.75,309.66 L203.07,308.22 L204.40,306.80 L205.72,305.40 L207.04,304.01 L208.37,302.64 L209.69,301.28 L211.01,299.94 L212.34,298.61 L213.66,297.30 L214.98,296.00 L216.31,294.72 L217.63,293.45 L218.95,292.19 L220.28,290.95 L221.60,289.71 L222.92,288.50 L224.25,287.29 L225.57,286.09 L226.89,284.91 L228.22,283.74 L229.54,282.58 L230.86,281.43 L232.19,280.29 L233.51,279.16 L234.83,278.05 L236.16,276.94 L237.48,275.84 L238.80,274.76 L240.13,273.68 L241.45,272.61 L242.77,271.56 L244.09,270.51 L245.42,269.47 L246.74,268.44 L248.06,267.42 L249.39,266.40 L250.71,265.40 L252.03,264.40 L253.36,263.42 L254.68,262.44 L256.00,261.47 L257.33,260.50 L258.65,259.55 L259.97,258.60 L261.30,257.66 L262.62,256.72 L263.94,255.80 L265.27,254.88 L266.59,253.97 L267.91,253.06 L269.24,252.16 L270.56,251.27 L271.88,250.39 L273.21,249.51 L274.53,248.64 L275.85,247.77 L277.18,246.92 L278.50,246.06 L279.82,245.22 L281.15,244.38 L282.47,243.54 L283.79,242.71 L285.12,241.89 L286.44,241.07 L287.76,240.26 L289.09,239.46 L290.41,238.65 L291.73,237.86 L293.05,237.07 L294.38,236.29 L295.70,235.51 L297.02,234.73 L298.35,233.96 L299.67,233.20 L300.99,232.44 L302.32,231.68 L303.64,230.94 L304.96,230.19 L306.29,229.45 L307.61,228.71 L308.93,227.98 L310.26,227.26 L311.58,226.54 L312.90,225.82 L314.23,225.11 L315.55,224.40 L316.87,223.69 L318.20,222.99 L319.52,222.30 L320.84,221.60 L322.17,220.92 L323.49,220.23 L324.81,219.55 L326.14,218.88 L327.46,218.20 L328.78,217.53 L330.11,216.87 L331.43,216.21 L332.75,215.55 L334.08,214.90 L335.40,214.25 L336.72,213.60 L338.05,212.96 L339.37,212.32 L340.69,211.69 L342.02,211.05 L343.34,210.43 L344.66,209.80 L345.98,209.18 L347.31,208.56 L348.63,207.94 L349.95,207.33 L351.28,206.72 L352.60,206.12 L353.92,205.51 L355.25,204.91 L356.57,204.32 L357.89,203.72 L359.22,203.13 L360.54,202.55 L361.86,201.96 L363.19,201.38 L364.51,200.80 L365.83,200.23 L367.16,199.65 L368.48,199.08 L369.80,198.52 L371.13,197.95 L372.45,197.39 L373.77,196.83 L375.10,196.27 L376.42,195.72 L377.74,195.17 L379.07,194.62 L380.39,194.07 L381.71,193.53 L383.04,192.99 L384.36,192.45 L385.68,191.91 L387.01,191.38 L388.33,190.85 L389.65,190.32 L390.98,189.80 L392.30,189.27 L393.62,188.75 L394.94,188.23 L396.27,187.71 L397.59,187.20 L398.91,186.69 L400.24,186.18 L401.56,185.67 L402.88,185.16 L404.21,184.66 L405.53,184.16 L406.85,183.66 L408.18,183.16 L409.50,182.67 L410.82,182.18 L412.15,181.69 L413.47,181.20 L414.79,180.71 L416.12,180.23 L417.44,179.75 L418.76,179.27 L420.09,178.79 L421.41,178.31 L422.73,177.84 L424.06,177.36 L425.38,176.89 L426.70,176.43 L428.03,175.96 L429.35,175.49 L430.67,175.03 L432.00,174.57 L433.32,174.11 L434.64,173.65 L435.97,173.20 L437.29,172.74 L438.61,172.29 L439.94,171.84 L441.26,171.39 L442.58,170.95 L443.91,170.50 L445.23,170.06 L446.55,169.62 L447.87,169.18 L449.20,168.74 L450.52,168.30 L451.84,167.87 L453.17,167.44 L454.49,167.00 L455.81,166.57 L457.14,166.15 L458.46,165.72 L459.78,165.29 L461.11,164.87 L462.43,164.45 L463.75,164.03 L465.08,163.61 L466.40,163.19 L467.72,162.78 L469.05,162.36 L470.37,161.95 L471.69,161.54 L473.02,161.13 L474.34,160.72 L475.66,160.31 L476.99,159.91 L478.31,159.50 L479.63,159.10 L480.96,158.70 L482.28,158.30 L483.60,157.90 L484.93,157.50 L486.25,157.11 L487.57,156.71 L488.90,156.32 L490.22,155.93 L491.54,155.54 L492.87,155.15 L494.19,154.76 L495.51,154.37 L496.83,153.99 L498.16,153.61 L499.48,153.22 L500.80,152.84 L502.13,152.46 L503.45,152.08 L504.77,151.71 L506.10,151.33 L507.42,150.95 L508.74,150.58 L510.07,150.21 L511.39,149.84 L512.71,149.47 L514.04,149.10 L515.36,148.73 L516.68,148.36 L518.01,148.00 L519.33,147.63 L520.65,147.27 L521.98,146.91 L523.30,146.55 L524.62,146.19 L525.95,145.83 L527.27,145.47 L528.59,145.12 L529.92,144.76 L531.24,144.41 L532.56,144.06 L533.89,143.70 L535.21,143.35 L536.53,143.00 L537.86,142.66 L539.18,142.31 L540.50,141.96 L541.83,141.62 L543.15,141.27 L544.47,140.93 L545.79,140.59 L547.12,140.24 L548.44,139.90 L549.76,139.57 L551.09,139.23 L552.41,138.89 L553.73,138.55 L555.06,138.22 L556.38,137.88 L557.70,137.55 L559.03,137.22 L560.35,136.89 L561.67,136.56 L563.00,136.23 L564.32,135.90 L565.64,135.57 L566.97,135.25 L568.29,134.92 L569.61,134.60 L570.94,134.27 L572.26,133.95 L573.58,133.63 L574.91,133.31 L576.23,132.99 L577.55,132.67 L578.88,132.35 L580.20,132.03 L581.52,131.72 L582.85,131.40 L584.17,131.08 L585.49,130.77 L586.82,130.46 L588.14,130.15 L589.46,129.83 L590.79,129.52 L592.11,129.21 L593.43,128.91 L594.76,128.60 L596.08,128.29 L597.40,127.99 L598.72,127.68 L600.05,127.38 L601.37,127.07 L602.69,126.77 L604.02,126.47 L605.34,126.17 L606.66,125.86 L607.99,125.57 L609.31,125.27 L610.63,124.97 L611.96,124.67 L613.28,124.37 L614.60,124.08 L615.93,123.78 L617.25,123.49 L618.57,123.20 L619.90,122.90 L621.22,122.61 L622.54,122.32 L623.87,122.03 L625.19,121.74 L626.51,121.45 L627.84,121.16 L629.16,120.88 L630.48,120.59 L631.81,120.30 L633.13,120.02 L634.45,119.73 L635.78,119.45 L637.10,119.17 L638.42,118.88 L639.75,118.60 L641.07,118.32 L642.39,118.04 L643.72,117.76 L645.04,117.48 L646.36,117.20 L647.68,116.93 L649.01,116.65 L650.33,116.37 L651.65,116.10 L652.98,115.82 L654.30,115.55 L655.62,115.27 L656.95,115.00 L658.27,114.73 L659.59,114.46 L660.92,114.19 L662.24,113.92 L663.56,113.65 L664.89,113.38 L666.21,113.11 L667.53,112.84 L668.86,112.58 L670.18,112.31 L671.50,112.04 L672.83,111.78 L674.15,111.51 L675.47,111.25 L676.80,110.99 L678.12,110.72 L679.44,110.46 L680.77,110.20 L682.09,109.94 L683.41,109.68 L684.74,109.42 L686.06,109.16 L687.38,108.90 L688.71,108.64 L690.03,108.39 L691.35,108.13 L692.68,107.87 L694.00,107.62 L695.32,107.36 L696.65,107.11 L697.97,106.86 L699.29,106.60 L700.61,106.35 L701.94,106.10 L703.26,105.85 L704.58,105.60 L705.91,105.35 L707.23,105.10 L708.55,104.85 L709.88,104.60 L711.20,104.35 L712.52,104.10 L713.85,103.85 L715.17,103.61 L716.49,103.36 L717.82,103.12 L719.14,102.87 L720.46,102.63 L721.79,102.38 L723.11,102.14 L724.43,101.90 L725.76,101.66 L727.08,101.41 L728.40,101.17 L729.73,100.93 L731.05,100.69 L732.37,100.45 L733.70,100.21 L735.02,99.97 L736.34,99.74 L737.67,99.50 L738.99,99.26 L740.31,99.03 L741.64,98.79 L742.96,98.55 L744.28,98.32 L745.61,98.08 L746.93,97.85 L748.25,97.62 L749.57,97.38 L750.90,97.15 L752.22,96.92 L753.54,96.69 L754.87,96.46 L756.19,96.22 L757.51,95.99 L758.84,95.76 L760.16,95.53 L761.48,95.31 L762.81,95.08 L764.13,94.85 L765.45,94.62 L766.78,94.40 L768.10,94.17 L769.42,93.94 L770.75,93.72 L772.07,93.49 L773.39,93.27 L774.72,93.04 L776.04,92.82 L777.36,92.60 L778.69,92.37 L780.01,92.15 L781.33,91.93 L782.66,91.71 L783.98,91.49 L785.30,91.26 L786.63,91.04 L787.95,90.82 L789.27,90.61 L790.60,90.39 L791.92,90.17 L793.24,89.95 L794.57,89.73 L795.89,89.51 L797.21,89.30 L798.54,89.08 L799.86,88.87 L801.18,88.65 L802.50,88.43 L803.83,88.22 L805.15,88.01 L806.47,87.79 L807.80,87.58 L809.12,87.37 L810.44,87.15 L811.77,86.94 L813.09,86.73 L814.41,86.52 L815.74,86.31 L817.06,86.09 L818.38,85.88 L819.71,85.67 L821.03,85.47 L822.35,85.26 L823.68,85.05 L825.00,84.84" stroke="#6bac28"/>
</g>
<path d="M84.70,752.0v-7.0M84.70,14.3v7.0M198.13,752.0v-7.0M198.13,14.3v7.0M311.56,752.0v-7.0M311.56,14.3v7.0M424.99,752.0v-7.0M424.99,14.3v7.0M538.42,752.0v-7.0M538.42,14.3v7.0M651.85,752.0v-7.0M651.85,14.3v7.0M765.28,752.0v-7.0M765.28,14.3v7.0M84.7,529.93h7.0M822.0,529.93h-7.0M84.7,307.86h7.0M822.0,307.86h-7.0M84.7,177.96h7.0M822.0,177.96h-7.0M84.7,85.79h7.0M822.0,85.79h-7.0M84.7,14.30h7.0M822.0,14.30h-7.0" stroke="#787878" stroke-width="1.0" fill="none"/>
<path d="M113.06,752.0v-3.8M113.06,14.3v3.8M141.42,752.0v-3.8M141.42,14.3v3.8M169.77,752.0v-3.8M169.77,14.3v3.8M226.49,752.0v-3.8M226.49,14.3v3.8M254.85,752.0v-3.8M254.85,14.3v3.8M283.20,752.0v-3.8M283.20,14.3v3.8M339.92,752.0v-3.8M339.92,14.3v3.8M368.28,752.0v-3.8M368.28,14.3v3.8M396.63,752.0v-3.8M396.63,14.3v3.8M453.35,752.0v-3.8M453.35,14.3v3.8M481.71,752.0v-3.8M481.71,14.3v3.8M510.07,752.0v-3.8M510.07,14.3v3.8M566.78,752.0v-3.8M566.78,14.3v3.8M595.14,752.0v-3.8M595.14,14.3v3.8M623.50,752.0v-3.8M623.50,14.3v3.8M680.21,752.0v-3.8M680.21,14.3v3.8M708.57,752.0v-3.8M708.57,14.3v3.8M736.93,752.0v-3.8M736.93,14.3v3.8M793.64,752.0v-3.8M793.64,14.3v3.8M822.00,752.0v-3.8M822.00,14.3v3.8M84.7,752.00h3.8M822.0,752.00h-3.8M84.7,622.10h3.8M822.0,622.10h-3.8M84.7,458.44h3.8M822.0,458.44h-3.8M84.7,400.03h3.8M822.0,400.03h-3.8M84.7,350.64h3.8M822.0,350.64h-3.8M84.7,270.13h3.8M822.0,270.13h-3.8M84.7,236.37h3.8M822.0,236.37h-3.8M84.7,205.83h3.8M822.0,205.83h-3.8M84.7,152.31h3.8M822.0,152.31h-3.8M84.7,128.57h3.8M822.0,128.57h-3.8M84.7,106.47h3.8M822.0,106.47h-3.8M84.7,66.37h3.8M822.0,66.37h-3.8M84.7,48.06h3.8M822.0,48.06h-3.8M84.7,30.73h3.8M822.0,30.73h-3.8" stroke="#999" stroke-width="0.8" fill="none"/>
<rect x="84.7" y="14.3" width="737.30" height="737.70" fill="none" stroke="#6e6e6e" stroke-width="1.25"/>
<text transform="translate(84.30,780.30) scale(1.012,1.1)" font-size="24.6" text-anchor="middle" stroke="#000" stroke-width="0.2" >0</text>
<text transform="translate(197.73,780.30) scale(1.012,1.1)" font-size="24.6" text-anchor="middle" stroke="#000" stroke-width="0.2" >2000</text>
<text transform="translate(311.16,780.30) scale(1.012,1.1)" font-size="24.6" text-anchor="middle" stroke="#000" stroke-width="0.2" >4000</text>
<text transform="translate(424.59,780.30) scale(1.012,1.1)" font-size="24.6" text-anchor="middle" stroke="#000" stroke-width="0.2" >6000</text>
<text transform="translate(538.02,780.30) scale(1.012,1.1)" font-size="24.6" text-anchor="middle" stroke="#000" stroke-width="0.2" >8000</text>
<text transform="translate(651.45,780.30) scale(1.012,1.1)" font-size="24.6" text-anchor="middle" stroke="#000" stroke-width="0.2" >10<tspan dx="4.2">000</tspan></text>
<text transform="translate(764.88,780.30) scale(1.012,1.1)" font-size="24.6" text-anchor="middle" stroke="#000" stroke-width="0.2" >12<tspan dx="4.2">000</tspan></text>
<text transform="translate(79.20,539.63) scale(1.012,1.08)" font-size="24.6" text-anchor="end" stroke="#000" stroke-width="0.2" >20</text>
<text transform="translate(79.20,317.56) scale(1.012,1.08)" font-size="24.6" text-anchor="end" stroke="#000" stroke-width="0.2" >40</text>
<text transform="translate(79.20,187.66) scale(1.012,1.08)" font-size="24.6" text-anchor="end" stroke="#000" stroke-width="0.2" >60</text>
<text transform="translate(79.20,95.49) scale(1.012,1.08)" font-size="24.6" text-anchor="end" stroke="#000" stroke-width="0.2" >80</text>
<text transform="translate(79.20,24.00) scale(1.012,1.08)" font-size="24.6" text-anchor="end" stroke="#000" stroke-width="0.2" >100</text>
<rect x="637.4" y="582.9" width="176.2" height="159.4" rx="8.6" ry="8.6" fill="#fff" stroke="#000" stroke-width="1.75"/>
<text transform="translate(653.70,615.90) scale(1.0,1.0)" font-size="23.4" text-anchor="start" stroke="#000" stroke-width="0.35" >Sp(4),<tspan dx="2.4"> A</tspan><tspan dx="1.9"> =</tspan><tspan dx="-0.6"> 0</tspan><tspan dx="-1.1">.</tspan><tspan dx="0.4">1</tspan></text>
<line x1="675.1" y1="639.35" x2="707" y2="639.35" stroke="#597fe3" stroke-width="4.6"/>
<text transform="translate(720.50,646.75) scale(1.0,1.0)" font-size="23.4" text-anchor="start" stroke="#000" stroke-width="0.35" >N<tspan dx="0.2"> =</tspan><tspan dx="-0.5"> </tspan>3</text>
<line x1="675.1" y1="677.42" x2="707" y2="677.42" stroke="#f69b1a" stroke-width="4.6"/>
<text transform="translate(720.50,684.82) scale(1.0,1.0)" font-size="23.4" text-anchor="start" stroke="#000" stroke-width="0.35" >N<tspan dx="0.2"> =</tspan><tspan dx="-0.5"> </tspan>4</text>
<line x1="675.1" y1="715.49" x2="707" y2="715.49" stroke="#6bac28" stroke-width="4.6"/>
<text transform="translate(720.50,722.89) scale(1.0,1.0)" font-size="23.4" text-anchor="start" stroke="#000" stroke-width="0.35" >N<tspan dx="0.2"> =</tspan><tspan dx="-0.5"> </tspan>6</text>
<text transform="translate(23.1,383) rotate(-90) scale(1.0,1.05)" font-size="24.6" stroke="#000" stroke-width="0.2" text-anchor="middle" id="yl">N</text>
<g fill="none" stroke="#000" stroke-width="1.7" stroke-linejoin="miter"><polyline points="5.3,372.6 16.5,366.5 27.7,372.6"/><polyline points="5.3,393.3 16.5,399.4 27.7,393.3"/></g>
<g id="xl">
<line x1="430.2" y1="842.6" x2="475.8" y2="842.6" stroke="#000" stroke-width="1.6"/>
<path d="M430.4,822.3 L434.3,820.2 L440.9,835.6 L448.6,797.3 L472,797.3" fill="none" stroke="#000" stroke-width="1.5" stroke-linejoin="miter"/>
<path d="M433.6,820.6 L440.4,836.0" fill="none" stroke="#000" stroke-width="2.3"/>
<text x="455.5" y="830.8" font-size="24.6" font-style="italic" id="ss" stroke="#000" stroke-width="0.2">s</text>
<polyline points="458.3,815.8 462.4,811.5 466.5,815.8" fill="none" stroke="#000" stroke-width="1.5"/>
<text x="438.5" y="869.5" font-size="25.2" id="lam" stroke="#000" stroke-width="0.15">&#923;</text>
<text x="455.0" y="873.6" font-size="17.5" font-style="italic" id="dd">d</text>
</g>
</g></svg></body></html>
